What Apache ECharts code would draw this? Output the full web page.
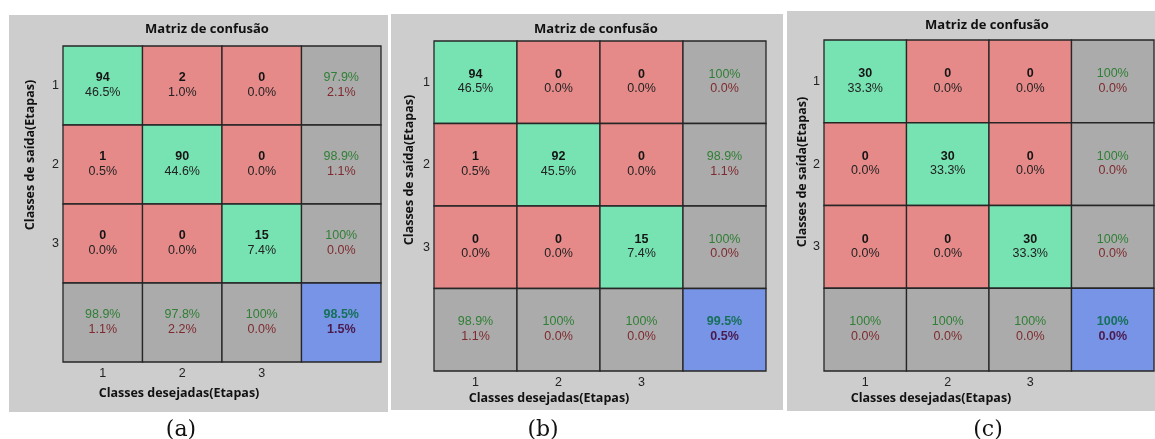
<!DOCTYPE html>
<html>
<head>
<meta charset="utf-8">
<script src="https://cdn.jsdelivr.net/npm/echarts@6/dist/echarts.min.js"></script>
<style>
  html, body { margin: 0; padding: 0; background: #ffffff; }
  #chart { width: 1155px; height: 439px; }
</style>
</head>
<body>
<div id="chart"></div>
<script>
// Class labels on both axes
const classLabels = ['1', '2', '3'];

// (a) counts, share of all samples (%), per-row and per-column accuracy (%), overall accuracy
const countsA = [[94, 2, 0], [1, 90, 0], [0, 0, 15]];
const sharesA = [[46.5, 1.0, 0.0], [0.5, 44.6, 0.0], [0.0, 0.0, 7.4]];
const rowRateA = [97.9, 98.9, 100];
const colRateA = [98.9, 97.8, 100];
const totalRateA = 98.5;

// (b)
const countsB = [[94, 0, 0], [1, 92, 0], [0, 0, 15]];
const sharesB = [[46.5, 0.0, 0.0], [0.5, 45.5, 0.0], [0.0, 0.0, 7.4]];
const rowRateB = [100, 98.9, 100];
const colRateB = [98.9, 100, 100];
const totalRateB = 99.5;

// (c)
const countsC = [[30, 0, 0], [0, 30, 0], [0, 0, 30]];
const sharesC = [[33.3, 0.0, 0.0], [0.0, 33.3, 0.0], [0.0, 0.0, 33.3]];
const rowRateC = [100, 100, 100];
const colRateC = [100, 100, 100];
const totalRateC = 100;

const titleText = 'Matriz de confusão';
const xName = 'Classes desejadas(Etapas)';
const yName = 'Classes de saída(Etapas)';
const captions = ['(a)', '(b)', '(c)'];

const COLORS = {
  hit: '#77e3b2',
  miss: '#e58a89',
  stat: '#ababab',
  total: '#7894e6',
  border: '#262626',
  panel: '#cdcdcd'
};
const SANS = '"Liberation Sans", Arial, sans-serif';
const HEAD = '"Open Sans", "DejaVu Sans", sans-serif';
const CELL_FS = 12.5;
const LH = 14.5;

function pct(v) {
  return v === 100 ? '100%' : v.toFixed(1) + '%';
}

// zrender rich-text styles for the two-line cell labels
const rich = {
  n: { fontFamily: SANS, fontSize: CELL_FS, fontWeight: 'bold', fill: '#151515', lineHeight: LH },
  p: { fontFamily: SANS, fontSize: CELL_FS, fill: '#222222', lineHeight: LH },
  g: { fontFamily: SANS, fontSize: CELL_FS, fill: '#2f7f35', lineHeight: LH },
  r: { fontFamily: SANS, fontSize: CELL_FS, fill: '#7e2a2e', lineHeight: LH },
  G: { fontFamily: SANS, fontSize: CELL_FS, fontWeight: 'bold', fill: '#16705a', lineHeight: LH },
  R: { fontFamily: SANS, fontSize: CELL_FS, fontWeight: 'bold', fill: '#4a1a4c', lineHeight: LH }
};

// Builds the 4x4 cell list (3x3 matrix + accuracy row/column + overall) for one panel
function buildCells(counts, shares, rowRate, colRate, totalRate) {
  const cells = [];
  for (let r = 0; r < 3; r++) {
    for (let c = 0; c < 3; c++) {
      cells.push({
        value: [c, r],
        fill: r === c ? COLORS.hit : COLORS.miss,
        text: '{n|' + counts[r][c] + '}\n{p|' + shares[r][c].toFixed(1) + '%}'
      });
    }
    cells.push({
      value: [3, r],
      fill: COLORS.stat,
      text: '{g|' + pct(rowRate[r]) + '}\n{r|' + (100 - rowRate[r]).toFixed(1) + '%}'
    });
  }
  for (let c = 0; c < 3; c++) {
    cells.push({
      value: [c, 3],
      fill: COLORS.stat,
      text: '{g|' + pct(colRate[c]) + '}\n{r|' + (100 - colRate[c]).toFixed(1) + '%}'
    });
  }
  cells.push({
    value: [3, 3],
    fill: COLORS.total,
    text: '{G|' + pct(totalRate) + '}\n{R|' + (100 - totalRate).toFixed(1) + '%}'
  });
  return cells;
}

// Panel geometry: plot area, grey figure backdrop, and title / axis-name anchors
const panels = [
  {
    cells: buildCells(countsA, sharesA, rowRateA, colRateA, totalRateA),
    grid: { left: 63, top: 46, width: 318, height: 316 },
    bg: [9, 15, 379, 397],
    titleXY: [207, 29], xNameXY: [179, 393], yNameXY: [30, 155], captionX: 181
  },
  {
    cells: buildCells(countsB, sharesB, rowRateB, colRateB, totalRateB),
    grid: { left: 434, top: 41, width: 332, height: 330 },
    bg: [391, 14, 392, 396],
    titleXY: [596, 29], xNameXY: [549, 398], yNameXY: [409, 170], captionX: 543
  },
  {
    cells: buildCells(countsC, sharesC, rowRateC, colRateC, totalRateC),
    grid: { left: 824, top: 40, width: 330, height: 331 },
    bg: [787, 11, 368, 400],
    titleXY: [987, 25], xNameXY: [931, 398], yNameXY: [802, 172], captionX: 988
  }
];

const axisCats = classLabels.concat(['']);
const headFont = (size) => 'bold ' + size + 'px ' + HEAD;

function label(x, y, text, font, rotation) {
  return {
    type: 'text', x: x, y: y, rotation: rotation || 0, silent: true,
    style: { text: text, align: 'center', verticalAlign: 'middle', font: font, fill: '#111' }
  };
}

const option = {
  animation: false,
  backgroundColor: '#ffffff',
  grid: panels.map(p => Object.assign({ containLabel: false }, p.grid)),
  xAxis: panels.map((p, i) => ({
    type: 'category', gridIndex: i, data: axisCats, position: 'bottom',
    axisLine: { show: false }, axisTick: { show: false }, splitLine: { show: false },
    axisLabel: { color: '#222', fontSize: 12.5, fontFamily: SANS, margin: 5 }
  })),
  yAxis: panels.map((p, i) => ({
    type: 'category', gridIndex: i, data: axisCats, inverse: true,
    axisLine: { show: false }, axisTick: { show: false }, splitLine: { show: false },
    axisLabel: { color: '#222', fontSize: 12.5, fontFamily: SANS, margin: 4 }
  })),
  graphic: [].concat(
    panels.map(p => ({
      type: 'rect', z: -10, silent: true,
      shape: { x: p.bg[0], y: p.bg[1], width: p.bg[2], height: p.bg[3] },
      style: { fill: COLORS.panel }
    })),
    panels.map(p => label(p.titleXY[0], p.titleXY[1], titleText, headFont(13))),
    panels.map(p => label(p.xNameXY[0], p.xNameXY[1], xName, headFont(12.5))),
    panels.map(p => label(p.yNameXY[0], p.yNameXY[1], yName, headFont(12.5), Math.PI / 2)),
    panels.map((p, i) => label(p.captionX, 430, captions[i],
      '22px "DejaVu Serif", "Liberation Serif", serif'))
  ),
  series: panels.map((p, i) => ({
    type: 'custom',
    xAxisIndex: i, yAxisIndex: i,
    data: p.cells.map(c => c.value),
    renderItem: function (params, api) {
      const cell = p.cells[params.dataIndex];
      const c = api.coord([api.value(0), api.value(1)]);
      const s = api.size([1, 1]);
      return {
        type: 'group',
        children: [
          {
            type: 'rect',
            shape: { x: c[0] - s[0] / 2, y: c[1] - s[1] / 2, width: s[0], height: s[1] },
            style: { fill: cell.fill, stroke: COLORS.border, lineWidth: 1.3 }
          },
          {
            type: 'text', x: c[0], y: c[1] - 0.5,
            style: { text: cell.text, rich: rich, align: 'center', verticalAlign: 'middle' }
          }
        ]
      };
    }
  }))
};

const chart = echarts.init(document.getElementById('chart'), null, { renderer: 'canvas' });
chart.setOption(option);
</script>
</body>
</html>
